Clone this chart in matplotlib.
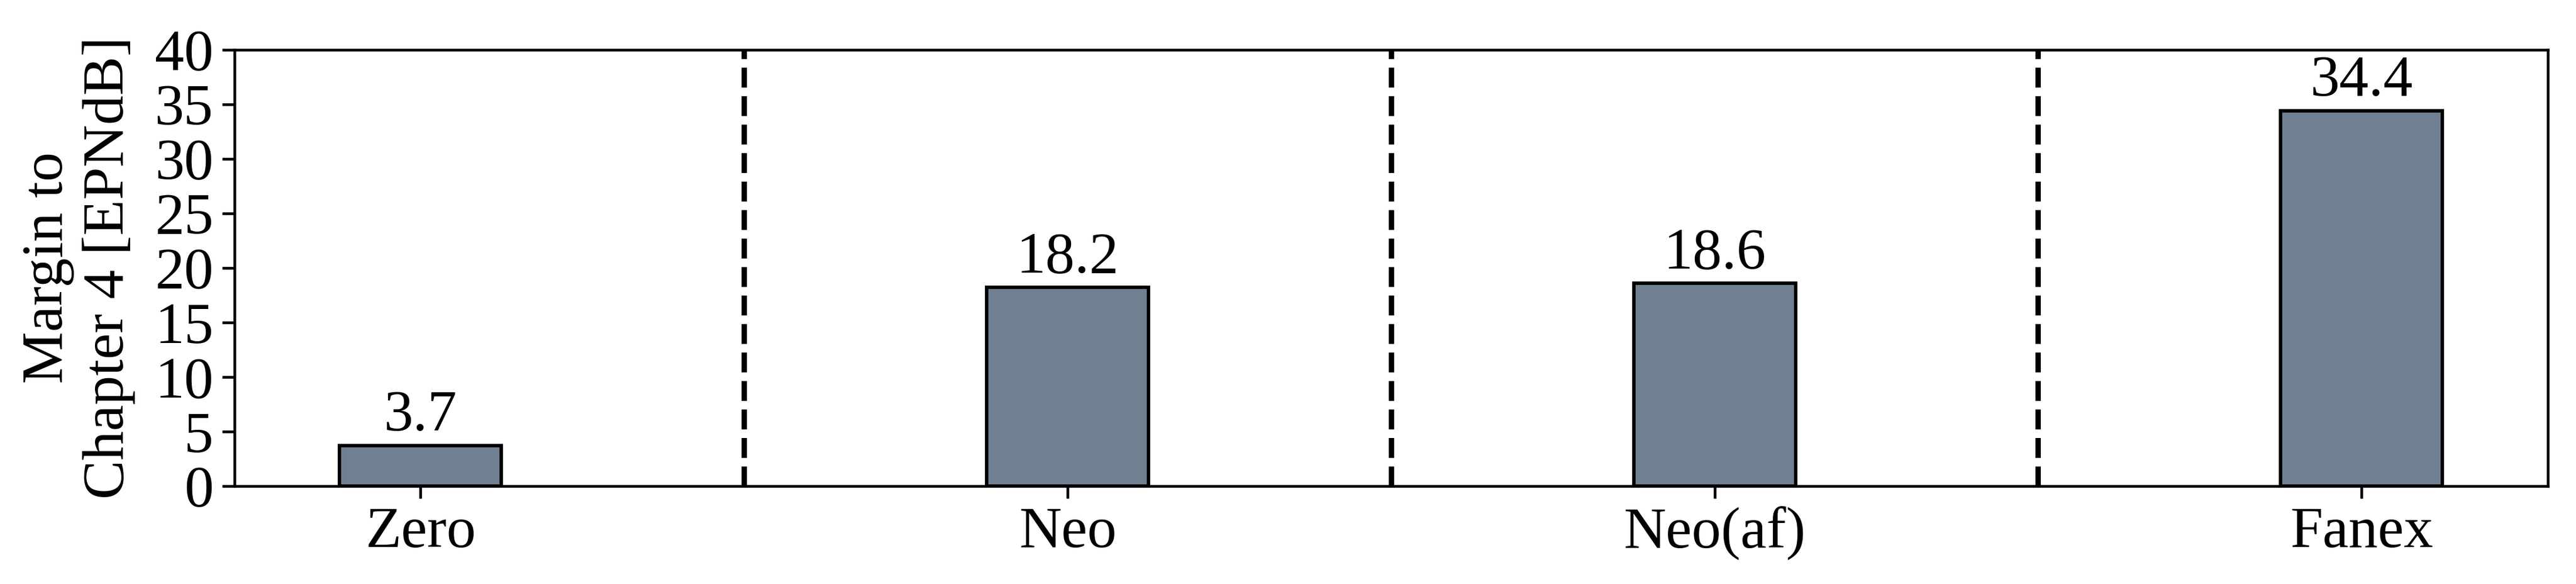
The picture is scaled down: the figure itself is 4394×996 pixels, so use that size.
import matplotlib
matplotlib.use("Agg")
import matplotlib.pyplot as plt

# bar data
engines = ["Zero", "Neo", "Neo(af)", "Fanex"]
margins = [3.7, 18.2, 18.6, 34.4]

plt.rcParams['font.family'] = ['Liberation Serif', 'DejaVu Serif']
plt.rcParams['font.size'] = 24
plt.rcParams['axes.linewidth'] = 1.1

fig, ax = plt.subplots(figsize=(4394 / 300, 996 / 300), dpi=300)
fig.subplots_adjust(left=0.091, right=0.989, bottom=0.168, top=0.915)

x = list(range(len(engines)))
ax.bar(x, margins, width=0.25, color='slategray', edgecolor='black', linewidth=1.4)

# value labels above bars
for i, v in zip(x, margins):
    ax.text(i, v + 1.4, f"{v}", ha='center', va='baseline', fontsize=24)

# separators between groups
for i in x[:-1]:
    ax.axvline(i + 0.5, color='black', linestyle='--', linewidth=2.2)

ax.set_xticks(x)
ax.set_xticklabels(engines)
ax.set_ylim(0, 40)
ax.set_yticks(range(0, 41, 5))
ax.set_ylabel("Margin to\nChapter 4 [EPNdB]", labelpad=8)
ax.tick_params(width=1.1, length=5)

fig.savefig("out.png", dpi=300)
